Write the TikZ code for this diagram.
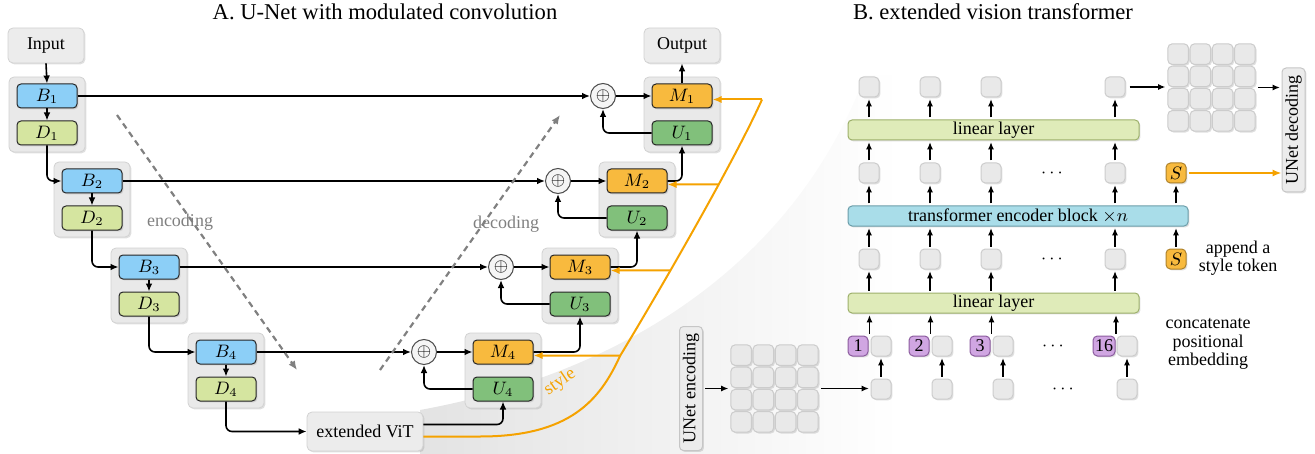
\documentclass[tikz,border=0pt]{standalone}
\usepackage{fontspec}
\setmainfont{Liberation Serif}
\usetikzlibrary{positioning,arrows.meta,shadows,fit,calc,intersections}

\definecolor{bcol}{HTML}{8CCFF7}
\definecolor{dcol}{HTML}{D5E5A0}
\definecolor{mcol}{HTML}{F8BA3E}
\definecolor{ucol}{HTML}{81C07B}
\definecolor{lincol}{HTML}{DFEBB9}
\definecolor{lindraw}{HTML}{9DB06B}
\definecolor{trfcol}{HTML}{A9DDE9}
\definecolor{trfdraw}{HTML}{6C9EAA}
\definecolor{pecol}{HTML}{D0A6E2}
\definecolor{pedraw}{HTML}{8B5C9E}
\definecolor{stylecol}{HTML}{F5A200}

\begin{document}
\begin{tikzpicture}[x=0.5pt,y=-0.5pt,
  font=\fontsize{9}{9.5}\selectfont,
  every node/.style={inner sep=0pt},
  arr/.style={-{Latex[length=4pt,width=3.4pt]},line width=0.8pt},
  uarr/.style={-{Latex[length=3.6pt,width=3pt]},line width=0.65pt,shorten <=1pt,shorten >=0.8pt},
  sarr/.style={-{Latex[length=4.5pt,width=3.6pt]},line width=1pt,draw=stylecol},
  dsh/.style={-{Latex[length=4.5pt,width=3.8pt]},line width=1.1pt,draw=gray,dash pattern=on 3pt off 2.2pt},
  shd/.style={drop shadow={shadow xshift=0.7pt,shadow yshift=-0.7pt,opacity=0.25}},
  ttl/.style={font=\fontsize{11.3}{13}\selectfont},
  iobox/.style={shd,rectangle,rounded corners=2.5pt,fill=gray!15,draw=gray!35,minimum width=38pt,minimum height=17.5pt},
  grp/.style={shd,rectangle,rounded corners=2.5pt,fill=gray!17,draw=gray!35,minimum width=38pt,minimum height=37.5pt},
  blk/.style={shd,rectangle,rounded corners=2pt,draw=black!85,line width=0.5pt,minimum width=30pt,minimum height=12pt},
  opl/.style={circle,fill=gray!8,draw=gray!60!black,line width=0.5pt,minimum size=12.5pt},
  tok/.style={shd,rectangle,rounded corners=2.2pt,fill=gray!17,draw=gray!40,line width=0.5pt,minimum size=10pt,inner sep=1pt},
  cell/.style={shd,rectangle,rounded corners=2.2pt,fill=gray!17,draw=gray!40,line width=0.5pt,minimum size=10.3pt},
  pe/.style={tok,fill=pecol,draw=pedraw},
  lin/.style={shd,rectangle,rounded corners=2pt,fill=lincol,draw=lindraw,line width=0.5pt,minimum width=145.5pt,minimum height=10pt},
  trf/.style={lin,fill=trfcol,draw=trfdraw,minimum width=170pt},
  vbox/.style={shd,rectangle,rotate=90,rounded corners=2pt,fill=gray!15,draw=gray!45,line width=0.5pt,minimum width=62pt,minimum height=11.5pt}]
\useasboundingbox (0,0) rectangle (1315,454);

% zoom wedge behind everything
\shade[left color=gray!22,right color=white] (420,454) -- (420,410) .. controls (640,370) and (800,250) .. (865,75) -- (900,75) -- (900,454) -- cycle;

\node[ttl] (ta) at (385,12) {A. U-Net with modulated convolution};
\node[ttl] (tb) at (993,12) {B. extended vision transformer};

\node[iobox] (input) at (46,45.5) {Input};
\node[iobox] (output) at (682,45.5) {Output};

% U-Net levels
\foreach \i/\x/\y in {1/47/96,2/92/181,3/149/267,4/226/352}{
  \node[grp] (ge\i) at (\x,\y+18.5) {};
  \node[blk,fill=bcol] (b\i) at (\x,\y) {$B_\i$};
  \node[blk,fill=dcol] (d\i) at (\x,\y+37) {$D_\i$};
  \node[grp] (gd\i) at (729-\x,\y+18.5) {};
  \node[blk,fill=mcol] (m\i) at (729-\x,\y) {$M_\i$};
  \node[blk,fill=ucol] (u\i) at (729-\x,\y+37) {$U_\i$};
  \node[opl] (o\i) at (650-\x,\y) {$\oplus$};
  \draw[arr] (b\i.south) -- (d\i.north);
  \draw[arr] (b\i.east) -- (o\i.west);
  \draw[arr] (o\i.east) -- (m\i.west);
  \draw[arr,rounded corners=3pt] (u\i.west) -| (o\i.south);
}
\foreach \i/\j in {1/2,2/3,3/4}{
  \draw[arr,rounded corners=3pt] (d\i.south) |- (b\j.west);
  \draw[arr,rounded corners=3pt] (m\j.east) -| (u\i.south);
}
\draw[arr] (input.south) -- (b1.north);
\draw[arr] (m1.north) -- (output.south);

\node[iobox,minimum width=58pt,minimum height=19.5pt] (vit) at (365,431.5) {extended ViT};
\draw[arr,rounded corners=3pt] (d4.south) |- (vit.west);
\draw[arr,rounded corners=3pt] ([yshift=3.5pt]vit.east) -| (u4.south);

% style path
\draw[stylecol,line width=1pt,name path=stylepath] ([yshift=-2.5pt]vit.east) -- (480,436.5) .. controls (570,436.5) and (600,400) .. (620,356) .. controls (660,290) and (735,160) .. (762,99.5) coordinate (stop);
\draw[sarr] (stop) -- (stop -| m1.east);
\foreach \i in {2,3,4}{
  \path[name path=hl\i] ([yshift=-1.75pt]m\i.east) -- ++(400,0);
  \path[name intersections={of=stylepath and hl\i,by=s\i}];
  \draw[sarr] (s\i) -- ([yshift=-1.75pt]m\i.east);
}
\node[text=stylecol,rotate=34] (stylelbl) at (560,382) {style};

\coordinate (enca) at (117,115);
\coordinate (encb) at (297,370);
\draw[dsh] (enca) -- (encb);
\node[text=gray] (enclbl) at (180,222) {encoding};
\coordinate (deca) at (380,370);
\coordinate (decb) at (560,115);
\draw[dsh] (deca) -- (decb);
\node[text=gray] (declbl) at (506,224) {decoding};

% vision transformer
\node[lin] (lin1) at (993.5,130) {linear layer};
\node[trf] (trf) at (1018,216) {transformer encoder block $\times n$};
\node[lin] (lin2) at (993.5,303) {linear layer};

\foreach \k/\c/\n in {1/869/1,2/930/2,3/991/3,4/1115/16}{
  \node[tok] (ra\k) at (\c,87) {};
  \node[tok] (rb\k) at (\c,173) {};
  \node[tok] (rc\k) at (\c,259) {};
  \node[pe] (rp\k) at (\c-11,346) {\n};
  \node[tok] (rq\k) at (\c+12,346) {};
  \node[tok] (re\k) at (\c+12,389) {};
  \coordinate (jn\k) at ($(rp\k.north east)!.5!(rq\k.north west)$);
  \draw[uarr] (ra\k.south |- lin1.north) -- (ra\k.south);
  \draw[uarr] (rb\k.north) -- (rb\k.north |- lin1.south);
  \draw[uarr] (rb\k.south |- trf.north) -- (rb\k.south);
  \draw[uarr] (rc\k.north) -- (rc\k.north |- trf.south);
  \draw[uarr] (rc\k.south |- lin2.north) -- (rc\k.south);
  \draw[uarr] (jn\k) -- (jn\k |- lin2.south);
  \draw[uarr] (re\k.north) -- (rq\k.south);
}
\node (dt2) at (1052,173) {$\cdots$};
\node (dt3) at (1052,259) {$\cdots$};
\node (dt4) at (1053,346) {$\cdots$};
\node (dt5) at (1063,389) {$\cdots$};

\node[tok,fill=mcol,draw=mcol!70!black] (sb) at (1176,173) {$S$};
\node[tok,fill=mcol,draw=mcol!70!black] (sc) at (1176,259) {$S$};
\draw[uarr] (sb.south |- trf.north) -- (sb.south);
\draw[uarr] (sc.north) -- (sc.north |- trf.south);

% rotated boxes: north is the left side, south the right side
\node[vbox] (udec) at (1293.5,130) {UNet decoding};
\draw[sarr,line width=0.9pt,shorten <=1pt] (sb.east) -- (sb.east -| udec.north);

\foreach \r in {1,...,4}{
  \foreach \q in {1,...,4}{
    \node[cell] (ga\r\q) at ({1211.5+(\q-2.5)*22.25},{87.5+(\r-2.5)*22.25}) {};
    \node[cell] (gb\r\q) at ({774.5+(\q-2.5)*22.25},{388.5+(\r-2.5)*22.25}) {};
  }
}
\node[fit=(ga11)(ga44)] (grida) {};
\node[fit=(gb11)(gb44)] (gridb) {};
\draw[uarr,shorten <=2pt] (ra4.east) -- (ra4.east -| grida.west);
\draw[uarr] (grida.east) -- (grida.east -| udec.north);

\node[vbox] (uenc) at (691,388.5) {UNet encoding};
\draw[uarr] (uenc.south) -- (uenc.south -| gridb.west);
\draw[uarr] (gridb.east) -- (gridb.east -| re1.west);

\node[align=center,font=\fontsize{9}{9.3}\selectfont] (apnd) at (1238,258) {append a\\style token};
\node[align=center,font=\fontsize{9}{9.3}\selectfont] (cct) at (1208,344) {concatenate\\positional\\embedding};
\end{tikzpicture}
\end{document}
